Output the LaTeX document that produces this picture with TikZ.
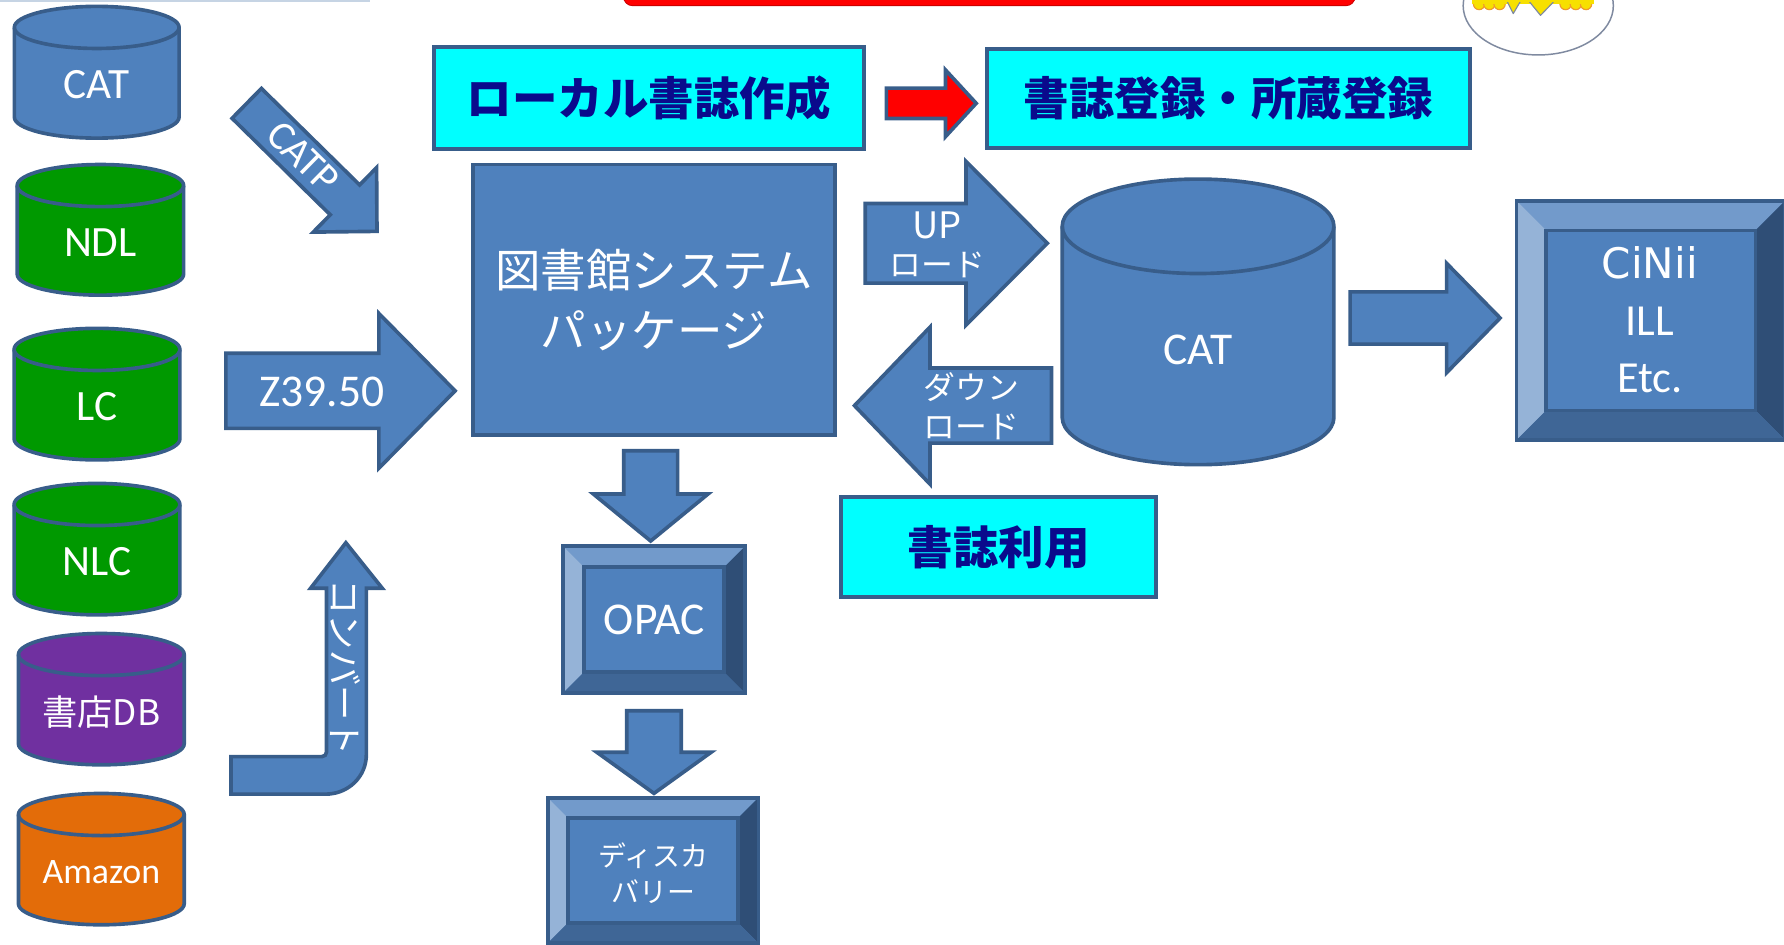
\documentclass[tikz,border=0pt]{standalone}
\usepackage{fontspec}
\setmainfont{Carlito}
\newfontfamily\jpfont{Noto Sans CJK JP}
\newfontfamily\dvfont{DejaVu Sans}

\definecolor{fillblue}{HTML}{4F81BD}
\definecolor{edgeblue}{HTML}{385D8A}
\definecolor{dbgreen}{HTML}{009900}
\definecolor{dbpurple}{HTML}{7030A0}
\definecolor{dborange}{HTML}{E36C09}
\definecolor{boxcyan}{HTML}{00FFFF}
\definecolor{navytext}{HTML}{0A0A8C}
\definecolor{bevtop}{HTML}{729ACB}
\definecolor{bevleft}{HTML}{95B3D7}
\definecolor{bevright}{HTML}{2F4E76}
\definecolor{bevbottom}{HTML}{3F6696}
\definecolor{eggline}{HTML}{7F8AA0}
\definecolor{chickyellow}{HTML}{F7E000}
\definecolor{chickorange}{HTML}{EE9A2E}
\definecolor{topline}{HTML}{C6D4E4}

% database cylinder: name, left, right, top, bottom, rim half-height, fill, font, label
\newcommand\dbcyl[9]{%
  \pgfmathsetmacro\cylcx{(#2+#3)/2}%
  \pgfmathsetmacro\cylkx{0.5523*(#3-#2)/2}%
  \pgfmathsetmacro\cylky{0.5523*#6}%
  \pgfmathsetmacro\cylyt{#4+#6}%
  \pgfmathsetmacro\cylyb{#5-#6}%
  \pgfmathsetmacro\cxL{\cylcx-\cylkx}%
  \pgfmathsetmacro\cxR{\cylcx+\cylkx}%
  \pgfmathsetmacro\ybA{\cylyb+\cylky}%
  \pgfmathsetmacro\ytA{\cylyt-\cylky}%
  \pgfmathsetmacro\ytB{\cylyt+\cylky}%
  \pgfmathsetmacro\ytbot{\cylyt+#6}%
  \pgfmathsetmacro\laby{(#4+#5)/2+0.6*#6}%
  \filldraw[fill=#7, blueedge] (#2,\cylyt) -- (#2,\cylyb)
    .. controls (#2,\ybA) and (\cxL,#5) .. (\cylcx,#5)
    .. controls (\cxR,#5) and (#3,\ybA) .. (#3,\cylyb)
    -- (#3,\cylyt)
    .. controls (#3,\ytA) and (\cxR,#4) .. (\cylcx,#4)
    .. controls (\cxL,#4) and (#2,\ytA) .. (#2,\cylyt) -- cycle;
  \draw[blueedge] (#2,\cylyt)
    .. controls (#2,\ytB) and (\cxL,\ytbot) .. (\cylcx,\ytbot)
    .. controls (\cxR,\ytbot) and (#3,\ytB) .. (#3,\cylyt);
  \node[lbl, font=#8] (#1) at (\cylcx,\laby) {#9};
}

% bevelled button: left, top, right, bottom, bevel width
\newcommand\bevelbox[5]{%
  \pgfmathsetmacro\bvl{#1+#5}%
  \pgfmathsetmacro\bvt{#2+#5}%
  \pgfmathsetmacro\bvr{#3-#5}%
  \pgfmathsetmacro\bvb{#4-#5}%
  \fill[fillblue] (#1,#2) rectangle (#3,#4);
  \fill[bevtop] (#1,#2) -- (#3,#2) -- (\bvr,\bvt) -- (\bvl,\bvt) -- cycle;
  \fill[bevleft] (#1,#2) -- (\bvl,\bvt) -- (\bvl,\bvb) -- (#1,#4) -- cycle;
  \fill[bevright] (#3,#2) -- (#3,#4) -- (\bvr,\bvb) -- (\bvr,\bvt) -- cycle;
  \fill[bevbottom] (#1,#4) -- (\bvl,\bvb) -- (\bvr,\bvb) -- (#3,#4) -- cycle;
  \draw[blueedge] (#1,#2) rectangle (#3,#4);
  \draw[blueedge] (\bvl,\bvt) rectangle (\bvr,\bvb);
}

% horizontal block arrow: style, tail x, head-base x, tip x, mid y, shaft half, head half
\newcommand\hblockarrow[7]{%
  \pgfmathsetmacro\baU{#5-#6}%
  \pgfmathsetmacro\baD{#5+#6}%
  \pgfmathsetmacro\baHU{#5-#7}%
  \pgfmathsetmacro\baHD{#5+#7}%
  \filldraw[#1] (#2,\baU) -- (#3,\baU) -- (#3,\baHU) -- (#4,#5) -- (#3,\baHD)
    -- (#3,\baD) -- (#2,\baD) -- cycle;
}

% downward block arrow: style, tail y, head-base y, tip y, mid x, shaft half, head half
\newcommand\vblockarrow[7]{%
  \pgfmathsetmacro\baL{#5-#6}%
  \pgfmathsetmacro\baR{#5+#6}%
  \pgfmathsetmacro\baHL{#5-#7}%
  \pgfmathsetmacro\baHR{#5+#7}%
  \filldraw[#1] (\baL,#2) -- (\baR,#2) -- (\baR,#3) -- (\baHR,#3) -- (#5,#4)
    -- (\baHL,#3) -- (\baL,#3) -- cycle;
}

\begin{document}
\begin{tikzpicture}[x=1pt, y=-1pt,
  blueedge/.style={draw=edgeblue, line width=3.2pt, line join=miter},
  blockarrow/.style={fill=fillblue, blueedge},
  redarrow/.style={fill=red, blueedge},
  lbl/.style={text=white, inner sep=0pt, align=center},
  cyanbox/.style={fill=boxcyan, draw=edgeblue, line width=3.5pt, inner sep=0pt},
  navylbl/.style={text=navytext, font=\jpfont\bfseries\fontsize{40}{40}\selectfont},
]
\useasboundingbox (0,0) rectangle (1568,830);
\clip (0,0) rectangle (1568,830);

% slide furniture along the top edge
\draw[topline, line width=2pt] (0,1) -- (325,1);
\filldraw[fill=red, draw=red!80!black, line width=0.8pt, rounded corners=8pt] (548,-20) rectangle (1191,5);

% hatching chick in its egg
\filldraw[draw=eggline, fill=white, line width=1.3pt] (1352,5) ellipse[x radius=66, y radius=43.3];
\begin{scope}
  \clip (1352,5) ellipse[x radius=65, y radius=42];
  \foreach \sx in {1300,1309,1318,1376,1385,1394}
    \filldraw[fill=chickyellow, draw=chickorange, line width=1pt] (\sx,3.5) circle[radius=5];
  \fill[chickyellow] (1294,-3) rectangle (1401,3.5);
  \filldraw[fill=chickyellow, draw=eggline, line width=1pt, line join=round]
    (1324,0) -- (1330,12) -- (1337,0);
  \filldraw[fill=chickyellow, draw=eggline, line width=1pt, line join=round]
    (1343,0) -- (1354,13.5) -- (1367,0);
  \fill[chickyellow] (1322,-3) rectangle (1370,2);
\end{scope}

% source databases
\dbcyl{catsrc}{12.6}{157.4}{5.6}{121.4}{18.5}{fillblue}{\fontsize{38}{38}\selectfont}{CAT}
\dbcyl{ndl}{15.1}{161.4}{144.6}{259.4}{18.5}{dbgreen}{\fontsize{38}{38}\selectfont}{NDL}
\dbcyl{lc}{12.4}{158.1}{288.6}{404.2}{18.5}{dbgreen}{\fontsize{38}{38}\selectfont}{LC}
\dbcyl{nlc}{12.4}{158.1}{424.9}{540.4}{18.5}{dbgreen}{\fontsize{38}{38}\selectfont}{NLC}
\dbcyl{shoten}{16.2}{161.9}{556.8}{672.2}{18.5}{dbpurple}{\jpfont\fontsize{31}{31}\selectfont}{書店DB}
\dbcyl{amazon}{16.2}{161.9}{697.4}{812.8}{18.5}{dborange}{\fontsize{31.5}{31.5}\selectfont}{Amazon}

% union catalogue database
\dbcyl{catdb}{933.6}{1172.4}{157.4}{408.4}{41.5}{fillblue}{\fontsize{40}{40}\selectfont}{CAT}

% task boxes
\node[cyanbox, navylbl, minimum width=377.6pt, minimum height=89.2pt] (localcat) at (570.2,86) {ローカル書誌作成};
\node[cyanbox, navylbl, minimum width=423.8pt, minimum height=87.2pt] (register) at (1079.7,86.4) {書誌登録・所蔵登録};
\node[cyanbox, navylbl, minimum width=277pt, minimum height=87.9pt] (reuse) at (877.9,480.75) {書誌利用};

% library system package
\node[fill=fillblue, blueedge, lbl, minimum width=318.2pt, minimum height=237.6pt,
      font=\jpfont\fontsize{40}{52.7}\selectfont] (pkg) at (574.7,263.4) {図書館システム\\パッケージ};

% bevelled service buttons
\bevelbox{1333}{176.5}{1569}{386.7}{26}
\node[lbl, font=\dvfont\fontsize{37}{37}\selectfont] (cinii) at (1450,231.4) {CiNii};
\node[lbl, font=\fontsize{39}{39}\selectfont] (ill) at (1450,282.7) {ILL};
\node[lbl, font=\fontsize{39}{39}\selectfont] (etc) at (1450,332.5) {Etc.};

\bevelbox{494.7}{479.9}{655}{609.3}{18.5}
\node[lbl, font=\fontsize{40}{40}\selectfont] (opac) at (575,545) {OPAC};

\bevelbox{481.4}{701.1}{666.7}{829}{18}
\node[lbl, font=\jpfont\fontsize{24.5}{31.6}\selectfont] (discovery) at (574.3,767.2) {ディスカ\\バリー};

% block arrows
\hblockarrow{redarrow}{779}{831}{858}{90.8}{13.3}{29.3}
\hblockarrow{blockarrow}{198.5}{333}{400}{343.5}{33}{68}
\hblockarrow{blockarrow}{760.5}{849}{920.5}{213.8}{35}{72}
\hblockarrow{blockarrow}{924.2}{817.4}{751}{356.5}{33}{69}
\hblockarrow{blockarrow}{1186.6}{1271.5}{1318.5}{279.5}{23}{48}
\vblockarrow{blockarrow}{396.2}{434.2}{475.5}{571.9}{23.7}{50.4}
\vblockarrow{blockarrow}{624.7}{661.2}{697.3}{574.8}{23.9}{50.2}

% diagonal CATP arrow
\begin{scope}[shift={(215.8,89.8)}, rotate=-44.5]
  \hblockarrow{blockarrow}{1.5}{122.5}{162}{0}{18.4}{39.7}
  \node[lbl, font=\fontsize{36}{36}\selectfont, rotate=-44.5] (catp) at (70,-1) {CATP};
\end{scope}

% bent conversion arrow
\filldraw[blockarrow] (304,477) -- (336,517) -- (322,517) -- (322,663)
  .. controls (322,682.9) and (305.9,698) .. (286,698)
  -- (203,698) -- (203,665) -- (283,665)
  .. controls (285.2,665) and (287,663.2) .. (287,661)
  -- (287,517) -- (273,517) -- cycle;

% arrow captions
\node[lbl, font=\fontsize{40}{40}\selectfont] (z3950) at (282.7,344.4) {Z39.50};
\node[lbl, font=\jpfont\fontsize{32}{32}\selectfont] (uptxt) at (823.5,198) {UP};
\node[lbl, font=\jpfont\fontsize{28}{28}\selectfont] (uploadtxt) at (824,233) {ロード};
\node[lbl, font=\jpfont\fontsize{28}{28}\selectfont] (downtxt) at (854,340) {ダウン};
\node[lbl, font=\jpfont\fontsize{28}{28}\selectfont] (downloadtxt) at (854,375) {ロード};
\node[lbl, font=\jpfont\fontsize{31}{31}\selectfont, rotate=-90] (convtxt) at (304,587) {コンバート};
\end{tikzpicture}
\end{document}
